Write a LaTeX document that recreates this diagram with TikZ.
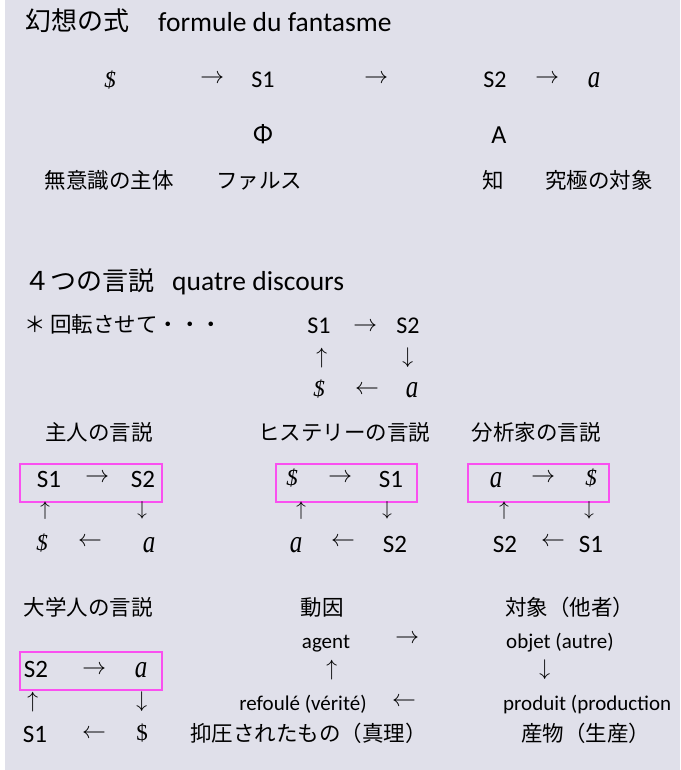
\documentclass[tikz,border=0pt]{standalone}
\usepackage{fontspec}
\usepackage{graphicx}
\setmainfont{Carlito}
\newfontfamily\jpf{Noto Sans CJK JP}
\newfontfamily\tms{Liberation Serif}
\newfontfamily\lmmath{latinmodern-math.otf}
\definecolor{bgc}{RGB}{224,224,234}
\definecolor{boxpink}{RGB}{250,80,240}
\newcommand\ita{\scalebox{0.78}[1]{\fontsize{32}{36}\selectfont\tms\itshape a}}
\newcommand\dol{{\fontsize{23}{28}\selectfont\tms\itshape\$}}
\newcommand\udol{{\fontsize{23}{26}\selectfont\tms\$}}
\tikzset{
  jp/.style={font=\jpf\fontsize{21.5}{24}\selectfont, inner sep=0pt, anchor=base},
  jpw/.style={jp, anchor=base west},
  jph/.style={font=\jpf\fontsize{26}{30}\selectfont, inner sep=0pt, anchor=base west},
  lat/.style={font=\fontsize{21}{24}\selectfont, inner sep=0pt, anchor=base},
  latw/.style={lat, anchor=base west},
  lath/.style={font=\fontsize{27.5}{30}\selectfont, inner sep=0pt, anchor=base west},
  sym/.style={font=\fontsize{24}{28}\selectfont, inner sep=0pt, anchor=base},
  bsym/.style={font=\fontsize{25}{28}\selectfont, inner sep=0pt, anchor=base},
  harr/.style={font=\lmmath\fontsize{24}{28}\selectfont, inner sep=0pt, anchor=center},
  varr/.style={font=\lmmath\fontsize{22.5}{26}\selectfont, inner sep=0pt, anchor=center},
  svarr/.style={font=\lmmath\fontsize{20}{24}\selectfont, inner sep=0pt, anchor=center},
  pbox/.style={draw=boxpink, line width=1.5pt},
}
\begin{document}
\begin{tikzpicture}[x=1pt, y=-1pt]
\useasboundingbox (0,0) rectangle (680,770);
\fill[white] (0,0) rectangle (5,770);
\fill[bgc] (5,0) rectangle (680,770);

% --- formula of fantasy
\node[jph] (t1) at (25,31) {幻想の式};
\node[lath] (t2) at (158,32) {formule du fantasme};

\node[sym] (f1) at (110,88) {\dol};
\node[harr] (fa1) at (212,78) {→};
\node[sym] (f2) at (263,88) {S1};
\node[harr] (fa2) at (376,78) {→};
\node[sym] (f3) at (495,88) {S2};
\node[harr] (fa3) at (547,78) {→};
\node[sym] (f4) at (594,88) {\ita};

\node[sym, font=\fontsize{26}{28}\selectfont] (phi) at (263,143) {Φ};
\node[sym, font=\fontsize{26}{28}\selectfont] (bigA) at (499,144) {A};

\node[jp] (l1) at (109,188.5) {無意識の主体};
\node[jp] (l2) at (259,188.5) {ファルス};
\node[jp] (l3) at (493,188.5) {知};
\node[jp] (l4) at (599,188.5) {究極の対象};

% --- four discourses
\node[jph] (h1) at (24,290) {４つの言説};
\node[lath] (h2) at (172,290) {quatre discours};
\node[jpw] (rot) at (24,332) {\makebox[26pt][l]{＊}回転させて・・・};

\node[sym] (r1) at (319,333) {S1};
\node[harr] (ra1) at (365,325) {→};
\node[sym] (r2) at (408,333) {S2};
\node[varr] (ru) at (322,358) {↑};
\node[varr] (rd) at (408,358) {↓};
\node[sym] (r3) at (319,396) {\dol};
\node[harr] (ra2) at (367,388) {←};
\node[sym] (r4) at (412,397) {\ita};

% discourse labels
\node[jp] (d1) at (99,440.5) {主人の言説};
\node[jp] (d2) at (344,440.5) {ヒステリーの言説};
\node[jp] (d3) at (536,440.5) {分析家の言説};

% boxes
\draw[pbox] (20,464) rectangle (162,502);
\draw[pbox] (276,464) rectangle (417,502);
\draw[pbox] (468,464) rectangle (609,502);

% master
\node[bsym] (m1) at (49,487) {S1};
\node[harr] (ma1) at (97,476) {→};
\node[bsym] (m2) at (143,487) {S2};
\node[svarr] (mu) at (45,510.5) {↑};
\node[svarr] (md) at (142,510.5) {↓};
\node[bsym] (m3) at (42,550) {\dol};
\node[harr] (ma2) at (90,540) {←};
\node[bsym] (m4) at (149,552) {\ita};

% hysteric
\node[bsym] (y1) at (292,485) {\dol};
\node[harr] (ya1) at (340,476) {→};
\node[bsym] (y2) at (391,487) {S1};
\node[svarr] (yu) at (301,510.5) {↑};
\node[svarr] (yd) at (387,510.5) {↓};
\node[bsym] (y3) at (296,552) {\ita};
\node[harr] (ya2) at (343,540) {←};
\node[bsym] (y4) at (395,552) {S2};

% analyst
\node[bsym] (n1) at (496,487) {\ita};
\node[harr] (na1) at (543,476) {→};
\node[bsym] (n2) at (591,485) {\dol};
\node[svarr] (nu) at (504,510.5) {↑};
\node[svarr] (nd) at (589,510.5) {↓};
\node[bsym] (n3) at (505,552) {S2};
\node[harr] (na2) at (553,540) {←};
\node[bsym] (n4) at (591,552) {S1};

% university
\node[jp] (d4) at (88,615.5) {大学人の言説};
\draw[pbox] (20,652) rectangle (162,690);
\node[bsym] (u1) at (36,677) {S2};
\node[harr] (ua1) at (94,668) {→};
\node[bsym] (u2) at (141,677) {\ita};
\node[varr] (uu) at (33,702) {↑};
\node[varr] (ud) at (142,702) {↓};
\node[bsym] (u3) at (35,742) {S1};
\node[harr] (ua2) at (94,732) {←};
\node[bsym] (u4) at (142,740) {\udol};

% legend
\node[jp] (g1) at (322,615.5) {動因};
\node[jpw] (g2) at (505,615.5) {対象（他者）};
\node[lat] (g3) at (326,648) {agent};
\node[harr] (ga1) at (407,637) {→};
\node[latw] (g4) at (506,648) {objet (autre)};
\node[varr] (gu) at (332,670) {↑};
\node[varr] (gd) at (545,670) {↓};
\node[lat] (g5) at (303,710) {refoulé (vérité)};
\node[harr] (ga2) at (404,700) {←};
\node[latw] (g6) at (503,710) {produit (production};
\node[jpw] (g7) at (190,741.5) {抑圧されたもの（真理）};
\node[jpw] (g8) at (521,741.5) {産物（生産）};
\end{tikzpicture}
\end{document}
